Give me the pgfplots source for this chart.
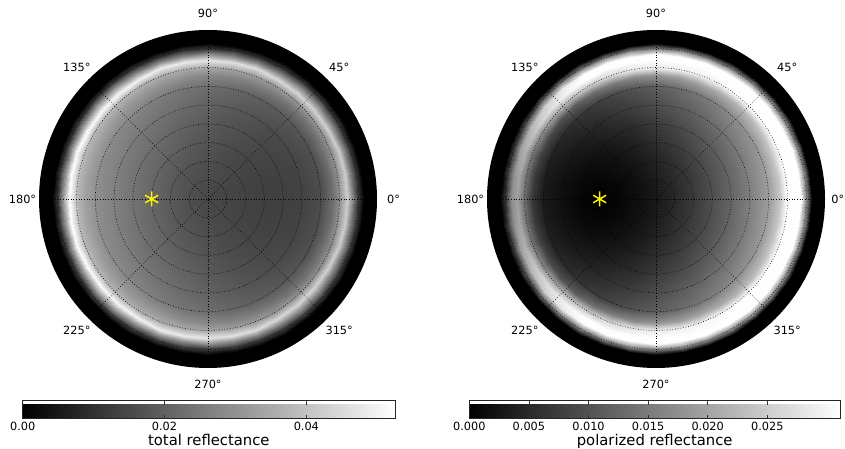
\documentclass[border=0pt]{standalone}
\usepackage{pgfplots}
\pgfplotsset{compat=1.18}
\usepackage{pgfplotstable}
\usepackage{fontspec}
\setmainfont{DejaVu Sans}
\newcommand\ticksize{\fontsize{11.3}{13.5}\selectfont}
\newcommand\labsize{\fontsize{14.8}{17}\selectfont}

% total reflectance: azimuth (deg), zenith radius (deg), value
\pgfplotstableread[row sep=\\]{
a r v\\
0 0 .01470\\10 0 .01470\\20 0 .01470\\30 0 .01470\\40 0 .01470\\50 0 .01470\\60 0 .01470\\70 0 .01470\\80 0 .01470\\90 0 .01470\\100 0 .01470\\110 0 .01470\\120 0 .01470\\130 0 .01470\\140 0 .01470\\150 0 .01470\\160 0 .01470\\170 0 .01470\\180 0 .01470\\
0 10 .01418\\10 10 .01419\\20 10 .01424\\30 10 .01432\\40 10 .01442\\50 10 .01455\\60 10 .01470\\70 10 .01487\\80 10 .01504\\90 10 .01523\\100 10 .01541\\110 10 .01558\\120 10 .01575\\130 10 .01590\\140 10 .01603\\150 10 .01613\\160 10 .01621\\170 10 .01626\\180 10 .01628\\
0 20 .01365\\10 20 .01369\\20 20 .01379\\30 20 .01397\\40 20 .01420\\50 20 .01449\\60 20 .01483\\70 20 .01521\\80 20 .01560\\90 20 .01601\\100 20 .01642\\110 20 .01682\\120 20 .01719\\130 20 .01753\\140 20 .01782\\150 20 .01806\\160 20 .01823\\170 20 .01834\\180 20 .01838\\
0 30 .01313\\10 30 .01318\\20 30 .01336\\30 30 .01365\\40 30 .01405\\50 30 .01453\\60 30 .01509\\70 30 .01572\\80 30 .01638\\90 30 .01706\\100 30 .01775\\110 30 .01841\\120 30 .01903\\130 30 .01959\\140 30 .02008\\150 30 .02047\\160 30 .02076\\170 30 .02094\\180 30 .02100\\
0 40 .01313\\10 40 .01320\\20 40 .01344\\30 40 .01383\\40 40 .01435\\50 40 .01500\\60 40 .01575\\70 40 .01658\\80 40 .01746\\90 40 .01838\\100 40 .01929\\110 40 .02017\\120 40 .02100\\130 40 .02175\\140 40 .02240\\150 40 .02292\\160 40 .02331\\170 40 .02355\\180 40 .02363\\
0 50 .01365\\10 50 .01375\\20 50 .01403\\30 50 .01449\\40 50 .01512\\50 50 .01590\\60 50 .01680\\70 50 .01780\\80 50 .01886\\90 50 .01995\\100 50 .02104\\110 50 .02211\\120 50 .02310\\130 50 .02400\\140 50 .02478\\150 50 .02541\\160 50 .02587\\170 50 .02615\\180 50 .02625\\
0 60 .01575\\10 60 .01585\\20 60 .01616\\30 60 .01667\\40 60 .01735\\50 60 .01819\\60 60 .01916\\70 60 .02024\\80 60 .02139\\90 60 .02258\\100 60 .02376\\110 60 .02491\\120 60 .02599\\130 60 .02696\\140 60 .02780\\150 60 .02849\\160 60 .02899\\170 60 .02930\\180 60 .02940\\
0 66 .02205\\10 66 .02214\\20 66 .02240\\30 66 .02282\\40 66 .02340\\50 66 .02411\\60 66 .02494\\70 66 .02585\\80 66 .02682\\90 66 .02783\\100 66 .02883\\110 66 .02980\\120 66 .03071\\130 66 .03154\\140 66 .03225\\150 66 .03283\\160 66 .03325\\170 66 .03351\\180 66 .03360\\
0 70 .02888\\10 70 .02894\\20 70 .02915\\30 70 .02947\\40 70 .02992\\50 70 .03047\\60 70 .03111\\70 70 .03181\\80 70 .03256\\90 70 .03334\\100 70 .03411\\110 70 .03486\\120 70 .03557\\130 70 .03621\\140 70 .03676\\150 70 .03720\\160 70 .03753\\170 70 .03773\\180 70 .03780\\
0 74 .04200\\10 74 .04208\\20 74 .04232\\30 74 .04270\\40 74 .04323\\50 74 .04388\\60 74 .04463\\70 74 .04546\\80 74 .04634\\90 74 .04725\\100 74 .04816\\110 74 .04905\\120 74 .04988\\130 74 .05063\\140 74 .05127\\150 74 .05180\\160 74 .05218\\170 74 .05242\\180 74 .05250\\
0 77 .02625\\10 77 .02630\\20 77 .02644\\30 77 .02667\\40 77 .02699\\50 77 .02738\\60 77 .02783\\70 77 .02832\\80 77 .02885\\90 77 .02940\\100 77 .02995\\110 77 .03048\\120 77 .03098\\130 77 .03143\\140 77 .03181\\150 77 .03213\\160 77 .03236\\170 77 .03250\\180 77 .03255\\
0 80 .01155\\10 80 .01156\\20 80 .01160\\30 80 .01166\\40 80 .01173\\50 80 .01183\\60 80 .01194\\70 80 .01207\\80 80 .01220\\90 80 .01234\\100 80 .01247\\110 80 .01261\\120 80 .01273\\130 80 .01284\\140 80 .01294\\150 80 .01302\\160 80 .01308\\170 80 .01311\\180 80 .01313\\
0 83 0\\10 83 0\\20 83 0\\30 83 0\\40 83 0\\50 83 0\\60 83 0\\70 83 0\\80 83 0\\90 83 0\\100 83 0\\110 83 0\\120 83 0\\130 83 0\\140 83 0\\150 83 0\\160 83 0\\170 83 0\\180 83 0\\
}\tabL

% polarized reflectance
\pgfplotstableread[row sep=\\]{
a r v\\
0 0 .00310\\10 0 .00310\\20 0 .00310\\30 0 .00310\\40 0 .00310\\50 0 .00310\\60 0 .00310\\70 0 .00310\\80 0 .00310\\90 0 .00310\\100 0 .00310\\110 0 .00310\\120 0 .00310\\130 0 .00310\\140 0 .00310\\150 0 .00310\\160 0 .00310\\170 0 .00310\\180 0 .00310\\
0 10 .00496\\10 10 .00494\\20 10 .00487\\30 10 .00477\\40 10 .00463\\50 10 .00445\\60 10 .00423\\70 10 .00398\\80 10 .00370\\90 10 .00340\\100 10 .00309\\110 10 .00285\\120 10 .00261\\130 10 .00237\\140 10 .00216\\150 10 .00197\\160 10 .00183\\170 10 .00174\\180 10 .00171\\
0 20 .00713\\10 20 .00709\\20 20 .00697\\30 20 .00678\\40 20 .00650\\50 20 .00616\\60 20 .00574\\70 20 .00525\\80 20 .00474\\90 20 .00423\\100 20 .00366\\110 20 .00308\\120 20 .00261\\130 20 .00212\\140 20 .00165\\150 20 .00129\\160 20 .00096\\170 20 .00071\\180 20 .00062\\
0 30 .00961\\10 30 .00955\\20 30 .00938\\30 30 .00910\\40 30 .00871\\50 30 .00822\\60 30 .00762\\70 30 .00695\\80 30 .00625\\90 30 .00549\\100 30 .00469\\110 30 .00392\\120 30 .00310\\130 30 .00245\\140 30 .00176\\150 30 .00122\\160 30 .00067\\170 30 .00033\\180 30 0\\
0 40 .01240\\10 40 .01233\\20 40 .01211\\30 40 .01175\\40 40 .01125\\50 40 .01061\\60 40 .00984\\70 40 .00902\\80 40 .00813\\90 40 .00713\\100 40 .00618\\110 40 .00517\\120 40 .00423\\130 40 .00327\\140 40 .00250\\150 40 .00176\\160 40 .00123\\170 40 .00080\\180 40 .00062\\
0 50 .01550\\10 50 .01541\\20 50 .01515\\30 50 .01471\\40 50 .01410\\50 50 .01333\\60 50 .01240\\70 50 .01143\\80 50 .01034\\90 50 .00919\\100 50 .00804\\110 50 .00685\\120 50 .00574\\130 50 .00466\\140 50 .00370\\150 50 .00286\\160 50 .00228\\170 50 .00186\\180 50 .00171\\
0 60 .01922\\10 60 .01911\\20 60 .01877\\30 60 .01821\\40 60 .01743\\50 60 .01645\\60 60 .01530\\70 60 .01417\\80 60 .01289\\90 60 .01158\\100 60 .01024\\110 60 .00891\\120 60 .00755\\130 60 .00643\\140 60 .00534\\150 60 .00444\\160 60 .00374\\170 60 .00327\\180 60 .00310\\
0 66 .02418\\10 66 .02418\\20 66 .02387\\30 66 .02325\\40 66 .02263\\50 66 .02170\\60 66 .02077\\70 66 .01984\\80 66 .01891\\90 66 .01798\\100 66 .01674\\110 66 .01519\\120 66 .01333\\130 66 .01147\\140 66 .00992\\150 66 .00868\\160 66 .00775\\170 66 .00713\\180 66 .00682\\
0 70 .03100\\10 70 .03100\\20 70 .03100\\30 70 .03100\\40 70 .03100\\50 70 .03100\\60 70 .03038\\70 70 .02976\\80 70 .02914\\90 70 .02852\\100 70 .02790\\110 70 .02666\\120 70 .02480\\130 70 .02232\\140 70 .01922\\150 70 .01643\\160 70 .01426\\170 70 .01302\\180 70 .01240\\
0 74 .03100\\10 74 .03100\\20 74 .03100\\30 74 .03100\\40 74 .03100\\50 74 .03100\\60 74 .03100\\70 74 .03100\\80 74 .03100\\90 74 .03100\\100 74 .03100\\110 74 .03100\\120 74 .03100\\130 74 .02976\\140 74 .02728\\150 74 .02418\\160 74 .02170\\170 74 .02015\\180 74 .01953\\
0 77 .03100\\10 77 .03100\\20 77 .03100\\30 77 .03100\\40 77 .03100\\50 77 .03100\\60 77 .03100\\70 77 .03100\\80 77 .03100\\90 77 .03100\\100 77 .03100\\110 77 .03100\\120 77 .03100\\130 77 .02852\\140 77 .02542\\150 77 .02232\\160 77 .01953\\170 77 .01798\\180 77 .01705\\
0 80 .01705\\10 80 .01705\\20 80 .01705\\30 80 .01705\\40 80 .01705\\50 80 .01705\\60 80 .01705\\70 80 .01705\\80 80 .01705\\90 80 .01705\\100 80 .01705\\110 80 .01674\\120 80 .01612\\130 80 .01488\\140 80 .01302\\150 80 .01085\\160 80 .00930\\170 80 .00837\\180 80 .00775\\
0 83 0\\10 83 0\\20 83 0\\30 83 0\\40 83 0\\50 83 0\\60 83 0\\70 83 0\\80 83 0\\90 83 0\\100 83 0\\110 83 0\\120 83 0\\130 83 0\\140 83 0\\150 83 0\\160 83 0\\170 83 0\\180 83 0\\
}\tabR

\tikzset{gridl/.style={black, line width=0.65pt, dash pattern=on 0.65pt off 2pt}}

\pgfplotsset{
  polarpanel/.style={
    at={(#1)}, anchor=center,
    hide axis, clip=false,
    x=1.87778pt, y=1.87778pt,
    xmin=-90, xmax=90, ymin=-90, ymax=90,
    colormap/blackwhite,
    colorbar horizontal,
  },
  cbstyle/.style={
    height=18pt, scale only axis,
    scaled x ticks=false,
    xtick pos=both, xticklabel pos=lower,
    tick align=inside, major tick length=4pt,
    tick style={black!80, line width=0.6pt},
    axis line style={black!85, line width=0.8pt},
    xticklabel style={font=\ticksize},
  },
  refl/.style={surf, shader=interp, mesh/cols=19, point meta=explicit, data cs=polar},
}

\newcommand\polargrid{%
  \draw[gridl] (axis cs:0,0) circle[radius=10];
  \draw[gridl] (axis cs:0,0) circle[radius=20];
  \draw[gridl] (axis cs:0,0) circle[radius=30];
  \draw[gridl] (axis cs:0,0) circle[radius=40];
  \draw[gridl] (axis cs:0,0) circle[radius=50];
  \draw[gridl] (axis cs:0,0) circle[radius=60];
  \draw[gridl] (axis cs:0,0) circle[radius=70];
  \draw[gridl] (axis cs:0,0) circle[radius=80];
  \draw[gridl] (axis cs:-90,0) -- (axis cs:90,0);
  \draw[gridl] (axis cs:0,-90) -- (axis cs:0,90);
  \draw[gridl] (axis cs:-63.64,-63.64) -- (axis cs:63.64,63.64);
  \draw[gridl] (axis cs:-63.64,63.64) -- (axis cs:63.64,-63.64);
}

\newcommand\anglelabels[1]{%
  \begin{scope}[shift={(#1)}]
    \foreach \ang/\lab in {45/45°,90/90°,135/135°,180/180°,225/225°,270/270°,315/315°}
      {\node[font=\ticksize, inner sep=0pt] at (\ang:185.5pt) {\lab};}
  \end{scope}
}

\begin{document}
\begin{tikzpicture}
\useasboundingbox (0pt,0pt) rectangle (845pt,449pt);
\coordinate (cL) at (208pt,250pt);
\coordinate (cR) at (656pt,250pt);
\coordinate (cbL) at (22.7pt,39pt);
\coordinate (cbR) at (469.3pt,39pt);
\fill[black] (cL) circle[radius=169pt];
\fill[black] (cR) circle[radius=169pt];

\begin{axis}[polarpanel=cL,
    point meta min=0, point meta max=0.0525,
    colorbar style={cbstyle, at={(cbL)}, anchor=south west, width=372.3pt,
      xtick={0,0.02,0.04}, xticklabels={0.00,0.02,0.04}}]
  \addplot[refl] table[x=a, y=r, meta=v] {\tabL};
  \addplot[refl] table[x expr=-\thisrow{a}, y=r, meta=v] {\tabL};
  \polargrid
  \addplot[only marks, mark=asterisk, mark size=7.5pt, color=yellow, line width=1.5pt, data cs=polar] coordinates {(180,30)};
\end{axis}

\begin{axis}[polarpanel=cR,
    point meta min=0, point meta max=0.0311,
    colorbar style={cbstyle, at={(cbR)}, anchor=south west, width=370.7pt,
      xtick={0,0.005,0.01,0.015,0.02,0.025},
      xticklabels={0.000,0.005,0.010,0.015,0.020,0.025}}]
  \addplot[refl] table[x=a, y=r, meta=v] {\tabR};
  \addplot[refl] table[x expr=-\thisrow{a}, y=r, meta=v] {\tabR};
  \polargrid
  \addplot[only marks, mark=asterisk, mark size=7.5pt, color=yellow, line width=1.5pt, data cs=polar] coordinates {(180,30)};
\end{axis}

\anglelabels{cL}
\anglelabels{cR}
\node[font=\ticksize, inner sep=0pt] at (393.5pt,250pt) {0°};
\node[font=\ticksize, inner sep=0pt, anchor=east] at (844.5pt,250pt) {0°};
\node[font=\labsize, anchor=base, inner sep=0pt] at (208.85pt,3pt) {total reflectance};
\node[font=\labsize, anchor=base, inner sep=0pt] at (654.65pt,3pt) {polarized reflectance};
\end{tikzpicture}
\end{document}
